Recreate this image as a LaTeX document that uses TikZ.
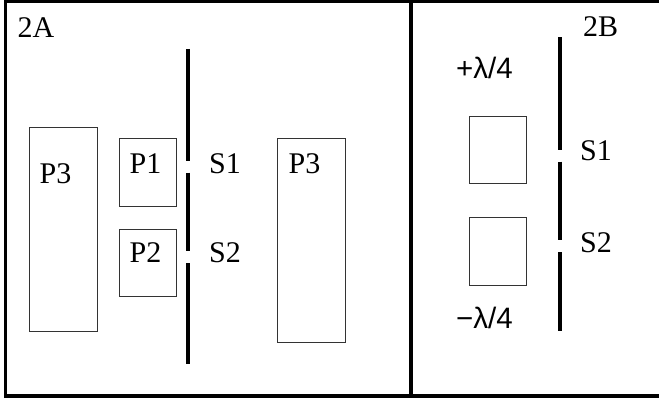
\documentclass[tikz,border=0pt]{standalone}
\usepackage{fontspec}
\setmainfont{Liberation Serif}
\newfontfamily\lamfont{Liberation Sans}
\begin{document}
\begin{tikzpicture}[x=1pt,y=-1pt,
  frame/.style={line width=3.5pt},
  bar/.style={line width=4.2pt},
  pbox/.style={draw=black!80, line width=1pt, inner sep=0pt, rectangle},
  lblA/.style={inner sep=0pt, anchor=base west, font=\fontsize{30}{30}\selectfont},
  lblL/.style={inner sep=0pt, anchor=base west, font=\lamfont\fontsize{29.5}{29.5}\selectfont}]
\clip (0,0) rectangle (659,403);
\fill[white] (0,0) rectangle (659,403);
% frames
\draw[frame] (5.5,1.5) rectangle (680,396);
\draw[frame] (411,1.5) -- (411,396);
% panel 2A
\node[pbox, minimum width=68.3pt, minimum height=203.7pt] (p3l) at (63.2,229.2) {};
\node[pbox, minimum width=57pt, minimum height=68.4pt] (p1) at (147.8,172.5) {};
\node[pbox, minimum width=57pt, minimum height=67.7pt] (p2) at (147.8,262.9) {};
\node[pbox, minimum width=68.2pt, minimum height=203.7pt] (p3r) at (311.6,240.2) {};
\draw[bar] (187.7,49) -- (187.7,161);
\draw[bar] (187.7,172.7) -- (187.7,250.7);
\draw[bar] (187.7,263.3) -- (187.7,364.3);
\node[lblA] (t2a) at (17.5,37.3) {2A};
\node[lblA] (tp3l) at (39.5,184) {P3};
\node[lblA] (tp1) at (129.5,173.3) {P1};
\node[lblA] (ts1) at (209,173.3) {S1};
\node[lblA] (tp3r) at (288.5,173.3) {P3};
\node[lblA] (tp2) at (129.5,263) {P2};
\node[lblA] (ts2) at (209,263) {S2};
% panel 2B
\node[pbox, minimum width=57pt, minimum height=67.7pt] (b1) at (497.8,149.9) {};
\node[pbox, minimum width=57pt, minimum height=68pt] (b2) at (497.8,251.7) {};
\draw[bar] (560.3,37.3) -- (560.3,150);
\draw[bar] (560.3,161.7) -- (560.3,240);
\draw[bar] (560.3,252.3) -- (560.3,331);
\node[lblA] (t2b) at (582.8,36.7) {2B};
\node[lblL] (tplus) at (456,79) {+λ/4};
\node[lblA] (ts1b) at (580,161) {S1};
\node[lblA] (ts2b) at (580,252.3) {S2};
\node[lblL] (tminus) at (456,329) {−λ/4};
\end{tikzpicture}
\end{document}
